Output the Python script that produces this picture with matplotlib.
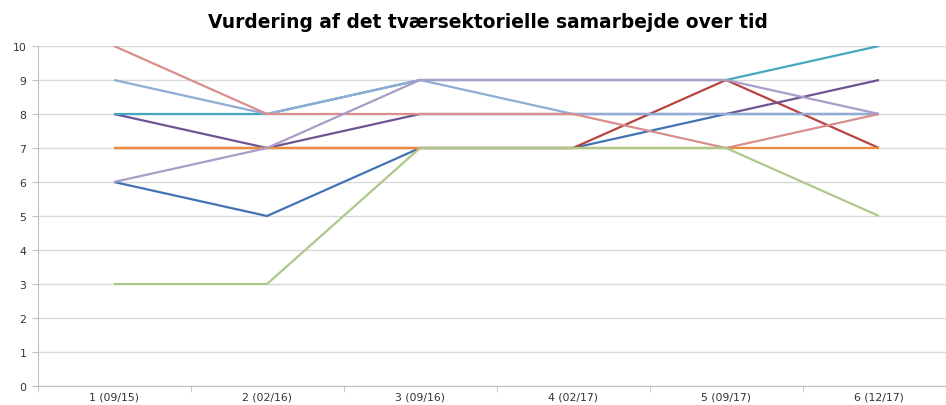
import matplotlib
matplotlib.use("Agg")
import matplotlib.pyplot as plt
import numpy as np

categories = ["1 (09/15)", "2 (02/16)", "3 (09/16)", "4 (02/17)", "5 (09/17)", "6 (12/17)"]

s_blue = [6, 5, 7, 7, 8, 8]
s_red = [7, 7, 7, 7, 9, 7]
s_purple = [8, 7, 8, 8, 8, 9]
s_aqua = [8, 8, 9, 9, 9, 10]
s_orange = [7, 7, 7, 7, 7, 7]
s_lightblue = [9, 8, 9, 8, 8, 8]
s_pink = [10, 8, 8, 8, 7, 8]
s_green = [3, 3, 7, 7, 7, 5]
s_lightpurple = [6, 7, 9, 9, 9, 8]

series = [
    (s_blue, "#4173B3"),
    (s_red, "#B8433F"),
    (s_purple, "#6E5394"),
    (s_aqua, "#45A6BF"),
    (s_orange, "#EE8A3E"),
    (s_lightblue, "#8FACD6"),
    (s_pink, "#D98E8C"),
    (s_green, "#ADC98A"),
    (s_lightpurple, "#AA9CC6"),
]

W, H = 946, 406
fig = plt.figure(figsize=(W / 100, H / 100), dpi=100)
left, right = 37.5, 955.5
top, bottom = 47, 387
ax = fig.add_axes([left / W, 1 - bottom / H, (right - left) / W, (bottom - top) / H])

x = np.arange(len(categories))
for i, (vals, col) in enumerate(series):
    ax.plot(x, vals, color=col, lw=1.6, zorder=3 + i, solid_capstyle="butt")

ax.set_xlim(-0.5, len(categories) - 0.5)
ax.set_ylim(0, 10)
ax.set_yticks(range(0, 11))
ax.set_yticklabels([str(v) for v in range(0, 11)], fontsize=7.8, color="#333333")
ax.yaxis.grid(True, color="#D9D9D9", lw=1)
ax.set_axisbelow(True)

ax.set_xticks(x)
ax.set_xticklabels(categories, fontsize=7.8, color="#333333")
ax.set_xticks(np.arange(-0.5, len(categories) + 0.5, 1), minor=True)
ax.tick_params(axis="x", which="major", length=0, pad=4)
ax.tick_params(axis="x", which="minor", length=4, color="#BFBFBF", direction="out")
ax.tick_params(axis="y", length=4, color="#BFBFBF", direction="out", pad=4)

for sp in ["top", "right"]:
    ax.spines[sp].set_visible(False)
ax.spines["left"].set_color("#BFBFBF")
ax.spines["bottom"].set_color("#BFBFBF")

fig.text(488 / W, 1 - 22 / H, "Vurdering af det tværsektorielle samarbejde over tid",
         ha="center", va="center", fontsize=13.4, fontweight="bold", color="black")

fig.savefig("out.png", dpi=100)
